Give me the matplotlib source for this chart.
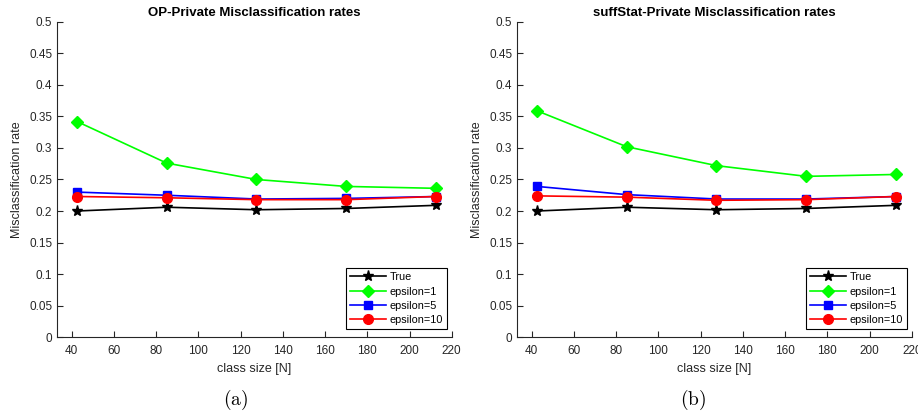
import matplotlib
matplotlib.use("Agg")
import matplotlib.pyplot as plt

plt.rcParams['font.family'] = ['Liberation Sans', 'DejaVu Sans']
plt.rcParams['mathtext.fontset'] = 'cm'

class_size = [42.5, 85, 127.5, 170, 212.5]

# OP-Private
op_true = [0.200, 0.206, 0.202, 0.204, 0.209]
op_eps1 = [0.342, 0.276, 0.250, 0.239, 0.236]
op_eps5 = [0.230, 0.225, 0.219, 0.220, 0.223]
op_eps10 = [0.223, 0.221, 0.218, 0.218, 0.223]

# suffStat-Private
ss_true = [0.200, 0.206, 0.202, 0.204, 0.209]
ss_eps1 = [0.359, 0.302, 0.272, 0.255, 0.258]
ss_eps5 = [0.239, 0.226, 0.219, 0.219, 0.223]
ss_eps10 = [0.224, 0.222, 0.217, 0.218, 0.223]

titles = ['OP-Private Misclassification rates', 'suffStat-Private Misclassification rates']
captions = ['(a)', '(b)']
labels = ['True', 'epsilon=1', 'epsilon=5', 'epsilon=10']

fig = plt.figure(figsize=(9.18, 4.19), dpi=100)
ax_pos = [[0.0621, 0.1957, 0.430, 0.7518], [0.5632, 0.1957, 0.430, 0.7518]]
cap_x = [236 / 918, 693 / 918]
axis_col = '#262626'

for i, series in enumerate([(op_true, op_eps1, op_eps5, op_eps10),
                            (ss_true, ss_eps1, ss_eps5, ss_eps10)]):
    ax = fig.add_axes(ax_pos[i])
    t, e1, e5, e10 = series
    ax.plot(class_size, t, '-*', color='black', lw=1.2, ms=8)
    ax.plot(class_size, e1, '-D', color='#00ff00', lw=1.2, ms=6)
    ax.plot(class_size, e5, '-s', color='#0000ff', lw=1.2, ms=6)
    ax.plot(class_size, e10, '-o', color='#ff0000', lw=1.2, ms=7)

    ax.set_xlim(33, 220)
    ax.set_ylim(0, 0.5)
    ax.set_xticks(range(40, 221, 20))
    ax.set_yticks([0, 0.05, 0.1, 0.15, 0.2, 0.25, 0.3, 0.35, 0.4, 0.45, 0.5])
    ax.set_yticklabels(['0', '0.05', '0.1', '0.15', '0.2', '0.25', '0.3',
                        '0.35', '0.4', '0.45', '0.5'])
    ax.spines['top'].set_visible(False)
    ax.spines['right'].set_visible(False)
    for s in ['left', 'bottom']:
        ax.spines[s].set_color(axis_col)
        ax.spines[s].set_linewidth(0.8)
    ax.tick_params(direction='in', length=4, width=0.8, colors=axis_col,
                   labelsize=8.5, labelcolor=axis_col)
    ax.tick_params(axis='x', pad=6)
    ax.set_xlabel('class size [N]', fontsize=9, color=axis_col, labelpad=4)
    ax.set_ylabel('Misclassification rate', fontsize=9, color=axis_col)
    ax.set_title(titles[i], fontsize=9.5, fontweight='bold', pad=4)

    leg = ax.legend(labels, loc='lower right', fontsize=7.8,
                    bbox_to_anchor=(1 - 5 / 395, 8 / 315), borderaxespad=0,
                    fancybox=False, framealpha=1, handlelength=3.4,
                    labelspacing=0.4, borderpad=0.35, handletextpad=0.3)
    leg.get_frame().set_edgecolor('black')
    leg.get_frame().set_linewidth(0.8)

    fig.text(cap_x[i], 19 / 419, r'$\mathrm{' + captions[i] + '}$',
             ha='center', va='center', fontsize=14)

fig.savefig('out.png', dpi=100)
